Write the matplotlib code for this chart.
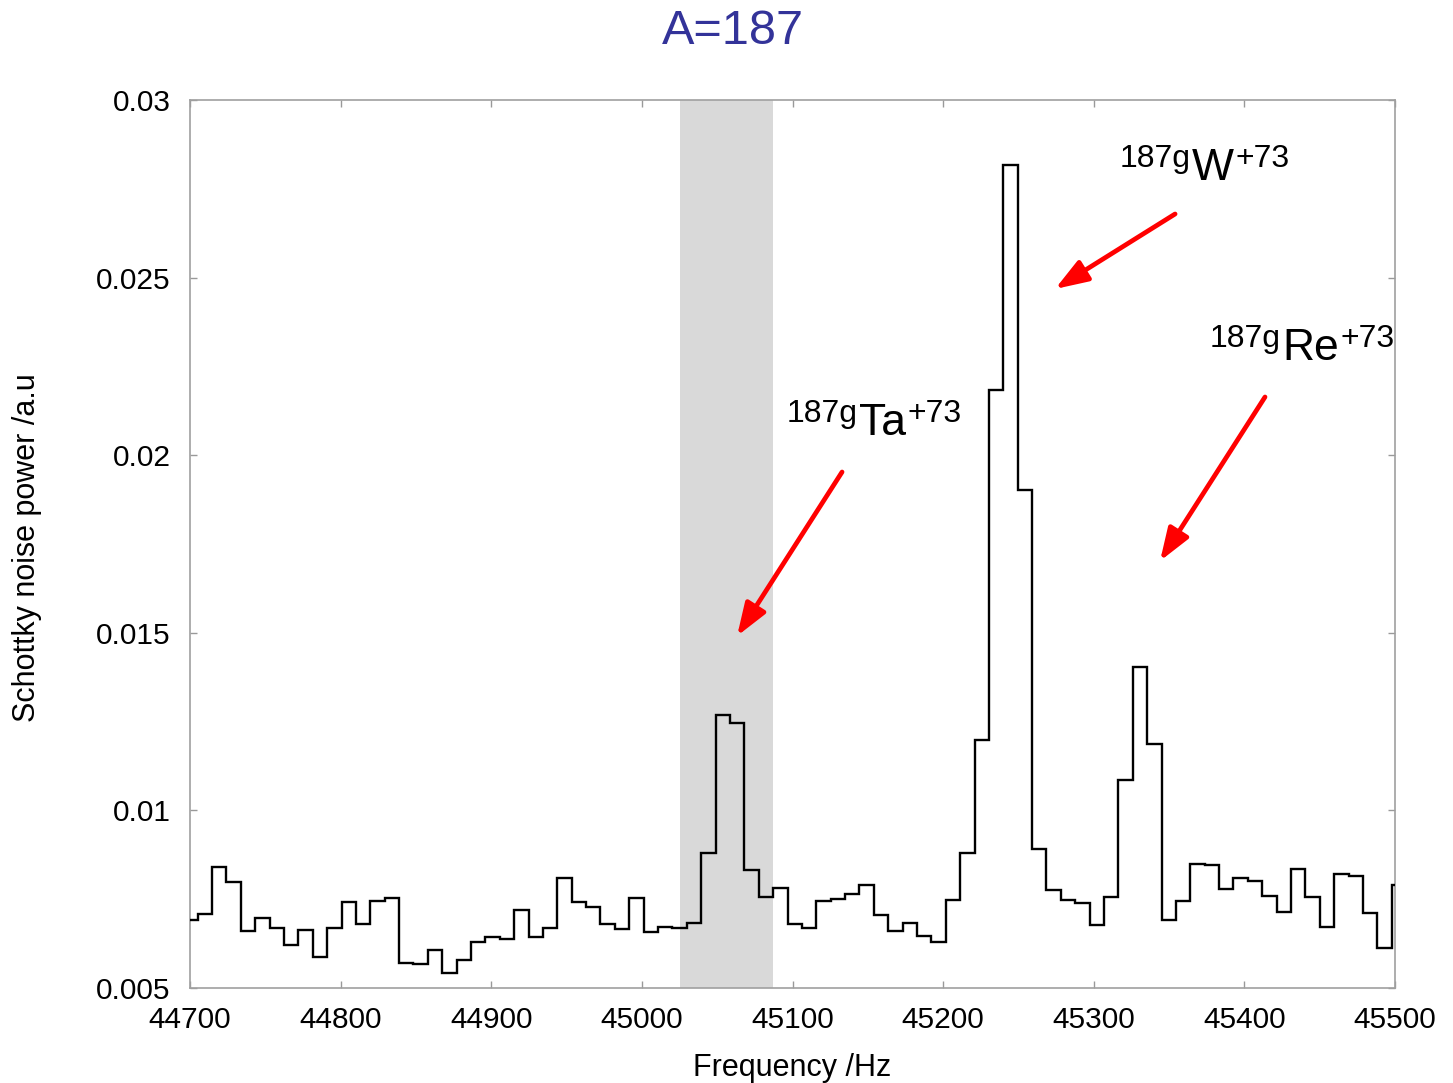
import numpy as np
import matplotlib
matplotlib.use("Agg")
import matplotlib.pyplot as plt

plt.rcParams['font.family'] = ['Liberation Sans', 'DejaVu Sans']

# ---- data ----
freq_start = 44695.55      # Hz, left edge of first bin
bin_width = 9.551          # Hz
power = [0.006914, 0.007083, 0.008398, 0.007984, 0.006613, 0.006962, 0.006681, 0.006211,
         0.006633, 0.005881, 0.006681, 0.007430, 0.006793, 0.007458, 0.007542, 0.005695,
         0.005667, 0.006070, 0.005414, 0.005788, 0.006304, 0.006444, 0.006388, 0.007196,
         0.006444, 0.006681, 0.008088, 0.007430, 0.007289, 0.006788, 0.006652, 0.007525,
         0.006568, 0.006717, 0.006697, 0.006821, 0.008792, 0.012686, 0.012469, 0.008322,
         0.007553, 0.007824, 0.006802, 0.006681, 0.007458, 0.007506, 0.007638, 0.007908,
         0.007055, 0.006613, 0.006821, 0.006464, 0.006287, 0.007477, 0.008801, 0.011982,
         0.021844, 0.028181, 0.019017, 0.008925, 0.007748, 0.007489, 0.007399, 0.006782,
         0.007553, 0.010856, 0.014037, 0.011869, 0.006914, 0.007449, 0.008491, 0.008454,
         0.007779, 0.008088, 0.008021, 0.007590, 0.007131, 0.008359, 0.007570, 0.006726,
         0.008201, 0.008162, 0.007103, 0.006135, 0.007900]

shade_range = (45025.3, 45087.1)

xticks = [44700, 44800, 44900, 45000, 45100, 45200, 45300, 45400, 45500]
yticks = [0.005, 0.01, 0.015, 0.02, 0.025, 0.03]
ytick_labels = ['0.005', '0.01', '0.015', '0.02', '0.025', '0.03']

ion_mass = ['187g', '187g', '187g']
ion_symbol = ['Ta', 'W', 'Re']
ion_charge = ['+73', '+73', '+73']
label_pos = [(45096.3, 0.02057), (45317.4, 0.02775), (45377.2, 0.02268)]
arrow_tail = [(45132.9, 0.019527), (45354.0, 0.026791), (45413.7, 0.021639)]
arrow_head = [(45063.2, 0.014910), (45274.3, 0.024679), (45344.0, 0.017021)]

# ---- figure ----
fig = plt.figure(figsize=(14.53, 10.83), dpi=100)
ax = fig.add_axes([190/1453, 1-988/1083, 1205/1453, 888/1083])

edges = freq_start + bin_width * np.arange(len(power) + 1)
ax.axvspan(shade_range[0], shade_range[1], color='#d9d9d9', zorder=0, lw=0)
ax.stairs(power, edges, baseline=None, color='black', lw=1.7, zorder=3)

ax.set_xlim(44700, 45500)
ax.set_ylim(0.005, 0.03)
ax.set_xticks(xticks)
ax.set_xticklabels([str(t) for t in xticks])
ax.set_yticks(yticks)
ax.set_yticklabels(ytick_labels)
ax.tick_params(direction='in', length=5, width=1, color='#999999',
               top=True, right=True, labelsize=21.5)
ax.tick_params(axis='x', pad=13)
ax.tick_params(axis='y', pad=14)
for s in ax.spines.values():
    s.set_color('#a0a0a0')
    s.set_linewidth(1.2)

# ion labels: superscript mass, symbol, superscript charge placed in sequence
renderer = fig.canvas.get_renderer()
sup_size, main_size, sup_raise = 23, 32, 13  # pt, pt, px
for m, sym, q, (x, y) in zip(ion_mass, ion_symbol, ion_charge, label_pos):
    px, py = ax.transData.transform((x, y))
    t1 = fig.text(px / fig.bbox.width, (py + sup_raise) / fig.bbox.height, m,
                  fontsize=sup_size, ha='left', va='baseline')
    x1 = t1.get_window_extent(renderer).x1
    t2 = fig.text((x1 + 1) / fig.bbox.width, py / fig.bbox.height, sym,
                  fontsize=main_size, ha='left', va='baseline')
    x2 = t2.get_window_extent(renderer).x1
    fig.text((x2 + 2) / fig.bbox.width, (py + sup_raise) / fig.bbox.height, q,
             fontsize=sup_size, ha='left', va='baseline')

for (xt, yt), (xh, yh) in zip(arrow_tail, arrow_head):
    ax.annotate('', xy=(xh, yh), xytext=(xt, yt),
                arrowprops=dict(arrowstyle='-|>,head_length=0.9,head_width=0.32',
                                color='red', lw=3.4, shrinkA=0, shrinkB=0,
                                mutation_scale=22))

fig.text(733/1453, 1-44/1083, 'A=187', fontsize=35, color='#333399',
         ha='center', va='baseline')
fig.text(792.5/1453, 1-1076/1083, 'Frequency /Hz', fontsize=22,
         ha='center', va='baseline')
fig.text(27/1453, 1-548/1083, 'Schottky noise power /a.u', fontsize=22,
         rotation=90, ha='center', va='center')

fig.savefig('out.png', dpi=100)
